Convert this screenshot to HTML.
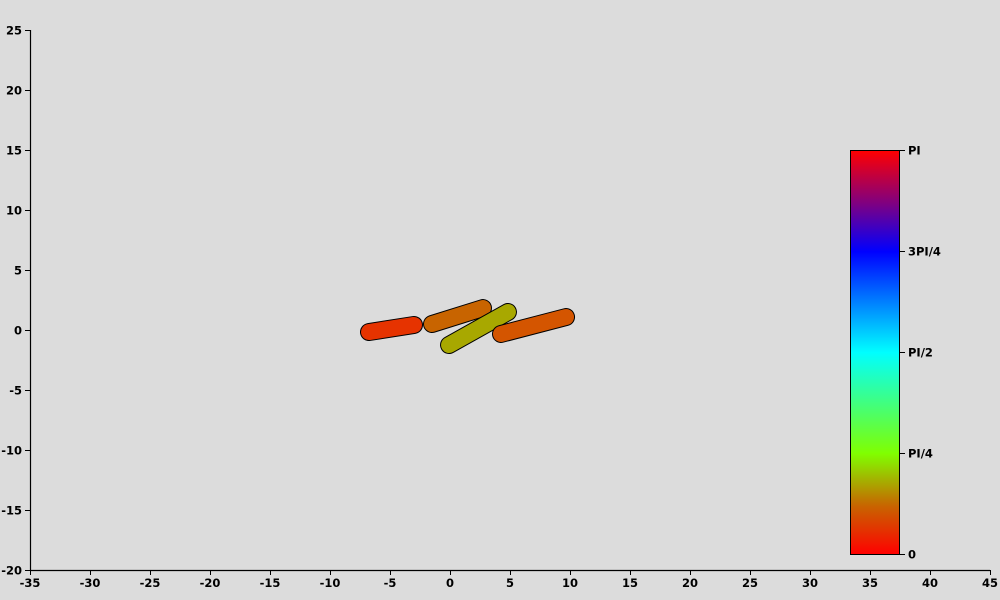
<!DOCTYPE html>
<html><head><meta charset="utf-8"><style>
html,body{margin:0;padding:0;background:#dcdcdc;width:1000px;height:600px;overflow:hidden;}
svg{display:block;}
svg text{font-family:"DejaVu Sans","Liberation Sans",sans-serif;font-size:11.5px;font-weight:bold;fill:#000;}
</style></head><body>
<svg id="chart" width="1000" height="600" xmlns="http://www.w3.org/2000/svg">
<defs>
<linearGradient id="cbar" x1="0" y1="1" x2="0" y2="0">
<stop offset="0" stop-color="#ff0000"/>
<stop offset="0.12" stop-color="#c86400"/>
<stop offset="0.25" stop-color="#80ff00"/>
<stop offset="0.5" stop-color="#00ffff"/>
<stop offset="0.75" stop-color="#0000ff"/>
<stop offset="0.87" stop-color="#800080"/>
<stop offset="1" stop-color="#ff0000"/>
</linearGradient>
</defs>
<g id="rods"></g>
<g id="axes"></g>
<g>
<rect x="850.5" y="150.5" width="49" height="404" fill="url(#cbar)" stroke="#000" stroke-width="1"/>
</g>
<g id="cbticks"></g>
</svg>
<script>
const xTicks=[-35,-30,-25,-20,-15,-10,-5,0,5,10,15,20,25,30,35,40,45];
const yTicks=[-20,-15,-10,-5,0,5,10,15,20,25];
const rodX1=[-6.75,-1.5,-0.08,4.25];
const rodY1=[-0.17,0.5,-1.25,-0.33];
const rodX2=[-3.0,2.75,4.83,9.67];
const rodY2=[0.42,1.83,1.5,1.08];
const rodColors=["#e63300","#c86400","#a8a800","#d45500"];
const cbLabels=["0","PI/4","PI/2","3PI/4","PI"];
const cbValues=[0,0.25,0.5,0.75,1];
const NS="http://www.w3.org/2000/svg";
const sx=v=>450+v*12, sy=v=>330-v*12;
function mk(tag,attrs,parent){const e=document.createElementNS(NS,tag);for(const k in attrs)e.setAttribute(k,attrs[k]);parent.appendChild(e);return e;}
const rods=document.getElementById('rods');
for(let i=0;i<rodX1.length;i++){
  const g=mk('g',{},rods);
  
  
  const a={x1:sx(rodX1[i]),y1:sy(rodY1[i]),x2:sx(rodX2[i]),y2:sy(rodY2[i]),'stroke-linecap':'round'};
  mk('line',Object.assign({},a,{stroke:'#000','stroke-width':18}),g);
  mk('line',Object.assign({},a,{stroke:rodColors[i],'stroke-width':16}),g);
}
const ax=document.getElementById('axes');
const yl=mk('line',{x1:30.5,y1:30,x2:30.5,y2:570,stroke:'#000','stroke-width':1.2},ax);


const xl=mk('line',{x1:30,y1:570.5,x2:990,y2:570.5,stroke:'#000','stroke-width':1.2},ax);


xTicks.forEach(v=>{
  const x=sx(v);
  mk('line',{x1:x+0.5,y1:570,x2:x+0.5,y2:575,stroke:'#000'},ax);
  const t=mk('text',{x:x,y:587,'text-anchor':'middle'},ax);
  t.textContent=v;
  
  
});
yTicks.forEach(v=>{
  const y=sy(v);
  mk('line',{x1:25,y1:y+0.5,x2:30,y2:y+0.5,stroke:'#000'},ax);
  const t=mk('text',{x:22,y:y+4.5,'text-anchor':'end'},ax);
  t.textContent=v;
  
  
});
const cb=document.getElementById('cbticks');
cbValues.forEach((v,i)=>{
  const y=554-v*404;
  mk('line',{x1:899,y1:y+0.5,x2:905,y2:y+0.5,stroke:'#000'},cb);
  const t=mk('text',{x:908,y:y+4.5},cb);
  t.textContent=cbLabels[i];
  
  
});
</script>
</body></html>
